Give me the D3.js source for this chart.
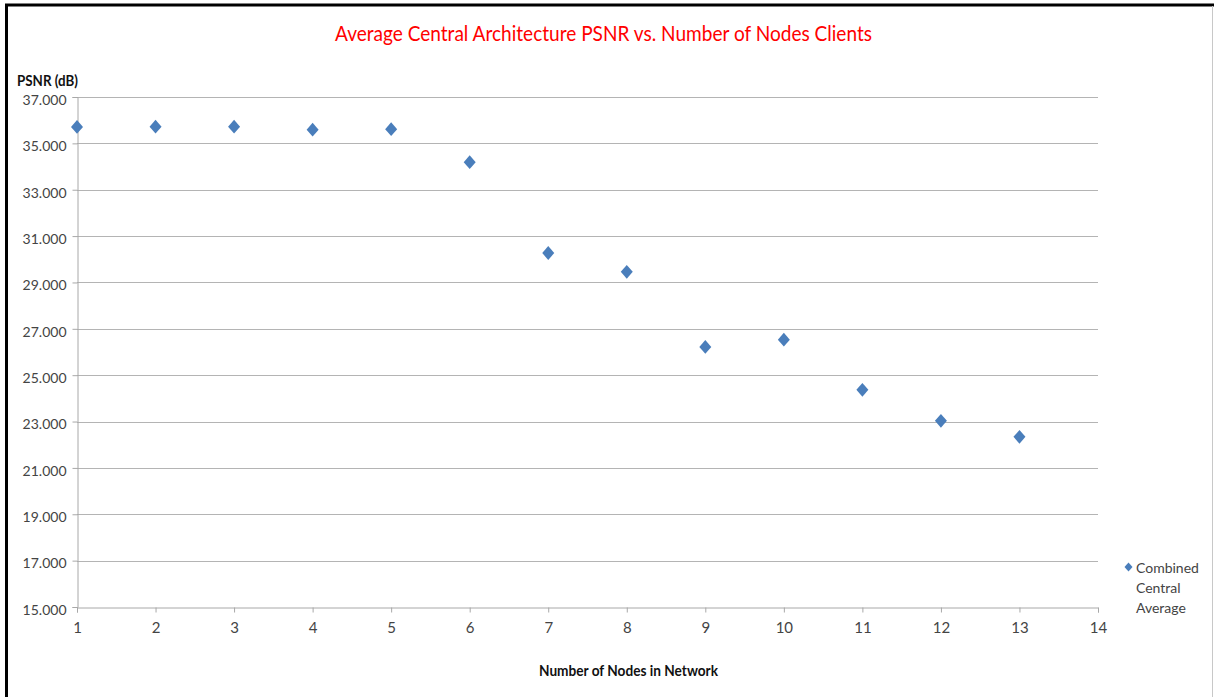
<!DOCTYPE html>
<html>
<head>
<meta charset="utf-8">
<script src="https://cdn.jsdelivr.net/npm/d3@7"></script>
<style>
  html, body { margin: 0; padding: 0; background: #fff; }
  svg { display: block; }
  text { font-family: Lato, "Open Sans", "DejaVu Sans", sans-serif; }
</style>
</head>
<body>
<svg id="chart" width="1214" height="697"></svg>
<script>
// PSNR per network size, central architecture
const nodes = [1, 2, 3, 4, 5, 6, 7, 8, 9, 10, 11, 12, 13];
const psnr = [35.71, 35.72, 35.72, 35.59, 35.61, 34.19, 30.27, 29.46, 26.22, 26.53, 24.37, 23.03, 22.34];
const yTicks = [15, 17, 19, 21, 23, 25, 27, 29, 31, 33, 35, 37];
const xTicks = [1, 2, 3, 4, 5, 6, 7, 8, 9, 10, 11, 12, 13, 14];
const seriesName = ["Combined", "Central", "Average"];

const svg = d3.select("#chart");
const W = 1214, H = 697;
const plotL = 77, plotR = 1098, plotT = 97, plotB = 607;
const FONT = "Lato, 'Open Sans', sans-serif";

// frame around the chart
svg.append("rect").attr("x", 0).attr("y", 0).attr("width", W).attr("height", H).attr("fill", "#fff");
svg.append("line").attr("x1", 6.5).attr("x2", 6.5).attr("y1", 4).attr("y2", H).attr("stroke", "#000").attr("stroke-width", 3);
svg.append("line").attr("x1", 5).attr("x2", W).attr("y1", 5).attr("y2", 5).attr("stroke", "#000").attr("stroke-width", 3);
svg.append("line").attr("x1", 1212.5).attr("x2", 1212.5).attr("y1", 6).attr("y2", H).attr("stroke", "#c8c8c8").attr("stroke-width", 1);

const x = d3.scaleLinear().domain([1, 14]).range([plotL, plotR]);
const y = d3.scaleLinear().domain([15, 37]).range([plotB, plotT]);

// horizontal gridlines
svg.append("g").selectAll("line").data(yTicks.filter(d => d !== 15)).join("line")
  .attr("x1", plotL).attr("x2", plotR)
  .attr("y1", d => Math.round(y(d)) + 0.5).attr("y2", d => Math.round(y(d)) + 0.5)
  .attr("stroke", "#b4b4b4").attr("stroke-width", 1);

// y axis
const yAxis = svg.append("g").attr("transform", `translate(${plotL + 0.5},0)`)
  .call(d3.axisLeft(y).tickValues(yTicks).tickFormat(d3.format(".3f")).tickSize(5).tickPadding(6));
yAxis.select(".domain").attr("stroke", "#a8a8a8");
yAxis.selectAll(".tick line").attr("stroke", "#a8a8a8");
yAxis.selectAll(".tick text").attr("fill", "#444").attr("dy", "0.52em")
  .style("font-size", "14px").style("font-family", FONT);

// x axis
const xAxis = svg.append("g").attr("transform", `translate(0,${plotB + 0.5})`)
  .call(d3.axisBottom(x).tickValues(xTicks).tickFormat(d3.format("d")).tickSize(5).tickPadding(10));
xAxis.select(".domain").attr("stroke", "#a8a8a8");
xAxis.selectAll(".tick line").attr("stroke", "#a8a8a8");
xAxis.selectAll(".tick text").attr("fill", "#444")
  .style("font-size", "15px").style("font-family", FONT);

// data markers
const diamond = (cx, cy, r) => `M${cx},${cy - r * 1.15}L${cx + r},${cy}L${cx},${cy + r * 1.15}L${cx - r},${cy}Z`;
svg.append("g").selectAll("path").data(nodes).join("path")
  .attr("d", (d, i) => diamond(x(d), y(psnr[i]), 6))
  .attr("fill", "#4a7ebb");

// title
svg.append("text").attr("x", 603.5).attr("y", 41).attr("text-anchor", "middle")
  .attr("fill", "#ff0000").style("font-size", "22px")
  .attr("textLength", 537).attr("lengthAdjust", "spacingAndGlyphs")
  .text("Average Central Architecture PSNR vs. Number of Nodes Clients");

// axis titles
svg.append("text").attr("x", 17).attr("y", 86).attr("fill", "#111")
  .style("font-size", "15.5px").style("font-weight", "bold")
  .attr("textLength", 61).attr("lengthAdjust", "spacingAndGlyphs").text("PSNR (dB)");
svg.append("text").attr("x", 628.5).attr("y", 676).attr("text-anchor", "middle").attr("fill", "#111")
  .style("font-size", "15.5px").style("font-weight", "bold")
  .attr("textLength", 179).attr("lengthAdjust", "spacingAndGlyphs").text("Number of Nodes in Network");

// legend
const lg = svg.append("g");
lg.append("path").attr("d", diamond(1128.5, 567, 4)).attr("fill", "#4a7ebb");
lg.selectAll("text").data(seriesName).join("text")
  .attr("x", 1136).attr("y", (d, i) => 573 + i * 20)
  .attr("fill", "#444").style("font-size", "14px").text(d => d);
</script>
</body>
</html>
